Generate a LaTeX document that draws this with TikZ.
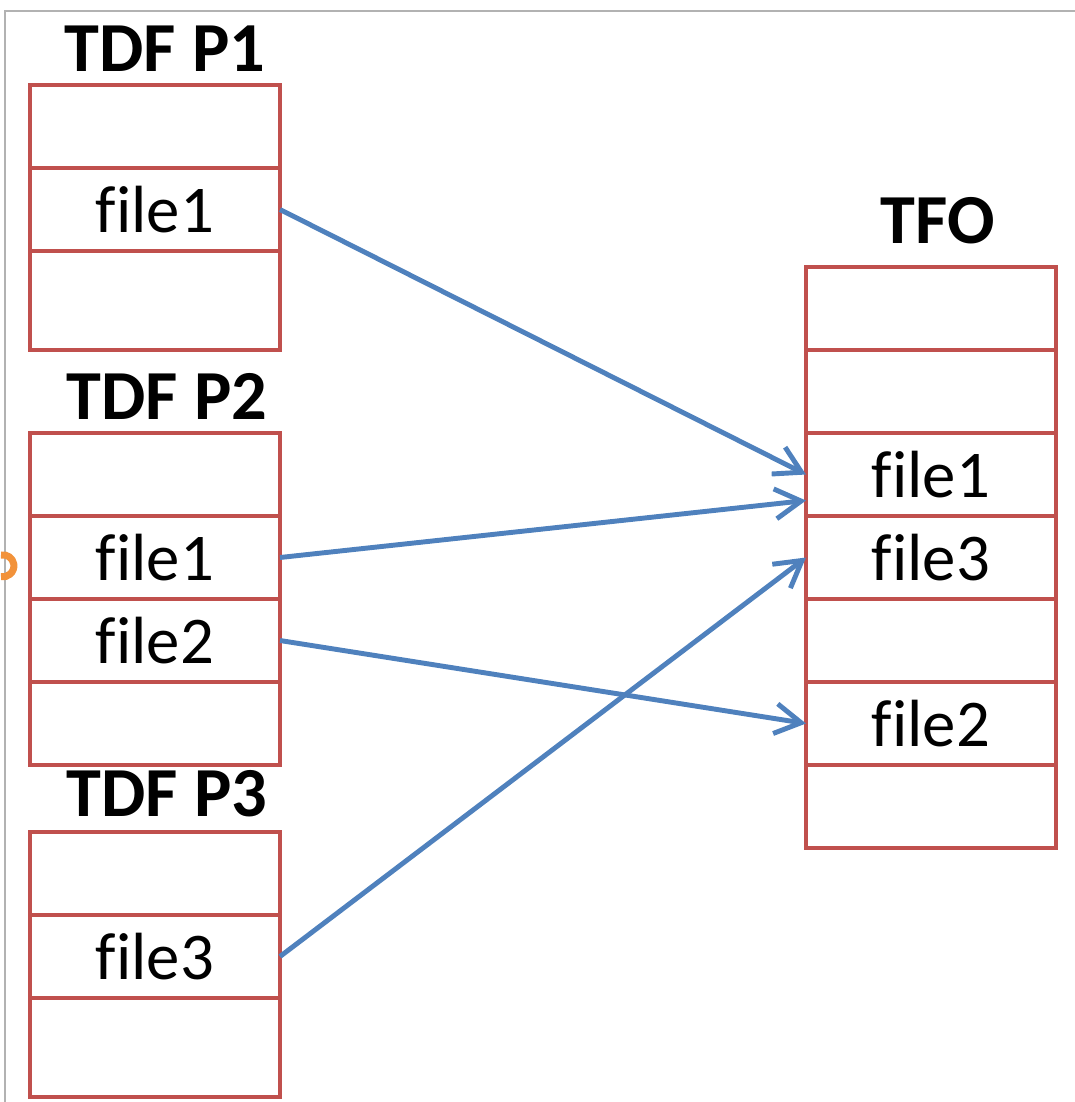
\documentclass[tikz,border=0pt]{standalone}
\usepackage{fontspec}
\setmainfont{Carlito}[Ligatures=NoCommon]
\usetikzlibrary{positioning, arrows.meta, calc}
\definecolor{cellred}{RGB}{192,80,77}
\definecolor{arrowblue}{RGB}{79,129,189}
\definecolor{markorange}{RGB}{242,146,58}

\begin{document}
\begin{tikzpicture}[
    node distance=0pt,
    cell/.style={rectangle, draw=cellred, line width=0.9pt, minimum width=2.5cm,
                 minimum height=0.83cm, inner sep=0pt, outer sep=0pt,
                 font=\fontsize{19}{22}\selectfont},
    tallcell/.style={cell, minimum height=0.99cm},
    title/.style={inner sep=0pt, font=\fontsize{20}{23}\selectfont\bfseries},
    arr/.style={-{Straight Barb[length=2.6mm, width=3mm]}, line width=1.4pt, arrowblue}
]
\useasboundingbox (0,0) rectangle (10.75,-11.02);
\draw[gray!60, line width=0.8pt] (0.05,-11.02) |- (10.75,-0.11);
\draw[markorange, line width=2pt] (0.01,-5.55) arc[start angle=100, end angle=-100, radius=0.11];

% TDF P1
\node[cell, anchor=north west] (p1a) at (0.30,-0.85) {};
\node[cell, below=of p1a] (p1b) {file1};
\node[tallcell, below=of p1b] (p1c) {};
\node[title, above=0.13cm of p1a, xshift=0.1cm] (p1t) {TDF P1};

% TDF P2
\node[cell, anchor=north west] (p2a) at (0.30,-4.33) {};
\node[cell, below=of p2a] (p2b) {file1};
\node[cell, below=of p2b] (p2c) {file2};
\node[cell, below=of p2c] (p2d) {};
\node[title, above=0.13cm of p2a, xshift=0.12cm] (p2t) {TDF P2};

% TDF P3
\node[cell, anchor=north west] (p3a) at (0.30,-8.32) {};
\node[cell, below=of p3a] (p3b) {file3};
\node[tallcell, below=of p3b] (p3c) {};
\node[title, above=0.14cm of p3a, xshift=0.12cm] (p3t) {TDF P3};

% TFO
\node[cell, anchor=north west] (t1) at (8.06,-2.67) {};
\node[cell, below=of t1] (t2) {};
\node[cell, below=of t2] (t3) {file1};
\node[cell, below=of t3] (t4) {file3};
\node[cell, below=of t4] (t5) {};
\node[cell, below=of t5] (t6) {file2};
\node[cell, below=of t6] (t7) {};
\node[title, above=0.22cm of t1, xshift=0.07cm] (tt) {TFO};

\draw[arr] (p1b.east) -- (t3.west);
\draw[arr] (p2b.east) -- ([yshift=-0.26cm]t3.west);
\draw[arr] (p2c.east) -- (t6.west);
\draw[arr] (p3b.east) -- (t4.west);
\end{tikzpicture}
\end{document}
